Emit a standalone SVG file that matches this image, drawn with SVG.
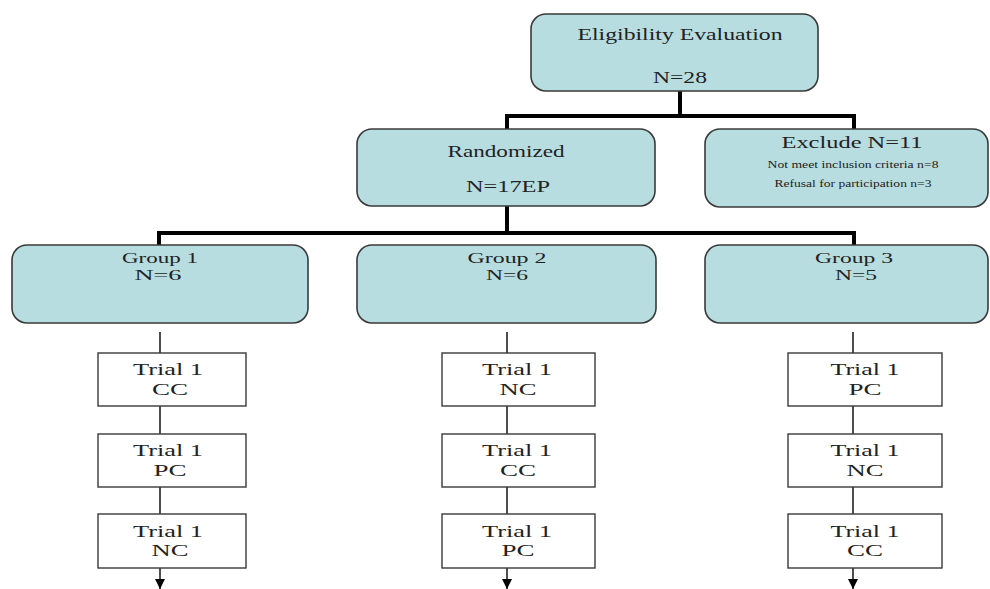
<svg xmlns="http://www.w3.org/2000/svg" width="990" height="589" viewBox="0 0 990 589">
<style>
.rb{fill:#b8dde0;stroke:#3a3a3a;stroke-width:1.6}
.tb{fill:#ffffff;stroke:#3a3a3a;stroke-width:1.4}
text{font-family:"Liberation Serif","Times New Roman",serif;fill:#222;text-anchor:middle}
.t17{font-size:17px}
.t15{font-size:15px}
.t16{font-size:16px}
.t9{font-size:9.5px}
.thick{stroke:#000;stroke-width:4;fill:none}
.thin{stroke:#222;stroke-width:1.6;fill:none}
</style>
<defs>
<marker id="arr" viewBox="0 0 10 10" refX="10" refY="5" markerWidth="10" markerHeight="10" markerUnits="userSpaceOnUse" orient="auto">
<path d="M0,0 L10,5 L0,10 z" fill="#000"/>
</marker>
</defs>
<rect width="990" height="589" fill="#fff"/>
<g id="connectors">
<path class="thick" d="M680,91 V116 M507,116 H854 M507,114 V129 M854,114 V129"/>
<path class="thick" d="M507,206 V233 M159,233 H854 M159,231 V245 M854,231 V245"/>
<path class="thin" d="M160,332 V353 M160,406 V434 M160,487 V514"/>
<path class="thin" d="M507,332 V353 M507,406 V434 M507,487 V514"/>
<path class="thin" d="M853,332 V353 M853,406 V434 M853,487 V514"/>
<path class="thin" d="M160,568 V589" marker-end="url(#arr)"/>
<path class="thin" d="M507,568 V589" marker-end="url(#arr)"/>
<path class="thin" d="M853,568 V589" marker-end="url(#arr)"/>
</g>
<g id="eligibility">
<rect class="rb" x="531" y="14" width="287" height="77" rx="15"/>
<text class="t17" x="680" y="40" textLength="205" lengthAdjust="spacingAndGlyphs">Eligibility Evaluation</text>
<text class="t17" x="680" y="83" textLength="54" lengthAdjust="spacingAndGlyphs">N=28</text>
</g>
<g id="randomized">
<rect class="rb" x="357" y="129" width="298" height="77" rx="15"/>
<text class="t17" x="506" y="157" textLength="117" lengthAdjust="spacingAndGlyphs">Randomized</text>
<text class="t17" x="508" y="192" textLength="84" lengthAdjust="spacingAndGlyphs">N=17EP</text>
</g>
<g id="exclude">
<rect class="rb" x="705" y="129" width="283" height="78" rx="15"/>
<text class="t16" x="852" y="148" textLength="141" lengthAdjust="spacingAndGlyphs">Exclude  N=11</text>
<text class="t9" x="853" y="168" textLength="171" lengthAdjust="spacingAndGlyphs">Not meet inclusion criteria n=8</text>
<text class="t9" x="853" y="187" textLength="157" lengthAdjust="spacingAndGlyphs">Refusal for participation n=3</text>
</g>
<g id="group1">
<rect class="rb" x="12" y="245" width="296" height="78" rx="15"/>
<text class="t15" x="160" y="263" textLength="76" lengthAdjust="spacingAndGlyphs">Group 1</text>
<text class="t15" x="158" y="280" textLength="47" lengthAdjust="spacingAndGlyphs">N=6</text>
</g>
<g id="group2">
<rect class="rb" x="357" y="245" width="299" height="78" rx="15"/>
<text class="t15" x="507" y="263" textLength="79" lengthAdjust="spacingAndGlyphs">Group 2</text>
<text class="t15" x="507" y="280" textLength="42" lengthAdjust="spacingAndGlyphs">N=6</text>
</g>
<g id="group3">
<rect class="rb" x="705" y="245" width="283" height="78" rx="15"/>
<text class="t15" x="854" y="263" textLength="78" lengthAdjust="spacingAndGlyphs">Group 3</text>
<text class="t15" x="856" y="280" textLength="42" lengthAdjust="spacingAndGlyphs">N=5</text>
</g>
<g id="g1t1">
<rect class="tb" x="98" y="353" width="148" height="53"/>
<text class="t17" x="168" y="375" textLength="70" lengthAdjust="spacingAndGlyphs">Trial 1</text>
<text class="t17" x="170" y="395" textLength="36" lengthAdjust="spacingAndGlyphs">CC</text>
</g>
<g id="g1t2">
<rect class="tb" x="98" y="434" width="148" height="53"/>
<text class="t17" x="168" y="456" textLength="70" lengthAdjust="spacingAndGlyphs">Trial 1</text>
<text class="t17" x="170" y="476" textLength="33" lengthAdjust="spacingAndGlyphs">PC</text>
</g>
<g id="g1t3">
<rect class="tb" x="98" y="514" width="148" height="54"/>
<text class="t17" x="168" y="537" textLength="70" lengthAdjust="spacingAndGlyphs">Trial 1</text>
<text class="t17" x="170" y="556" textLength="37" lengthAdjust="spacingAndGlyphs">NC</text>
</g>
<g id="g2t1">
<rect class="tb" x="442" y="353" width="153" height="53"/>
<text class="t17" x="517" y="375" textLength="70" lengthAdjust="spacingAndGlyphs">Trial 1</text>
<text class="t17" x="518" y="395" textLength="37" lengthAdjust="spacingAndGlyphs">NC</text>
</g>
<g id="g2t2">
<rect class="tb" x="442" y="434" width="153" height="53"/>
<text class="t17" x="517" y="456" textLength="70" lengthAdjust="spacingAndGlyphs">Trial 1</text>
<text class="t17" x="518" y="476" textLength="36" lengthAdjust="spacingAndGlyphs">CC</text>
</g>
<g id="g2t3">
<rect class="tb" x="442" y="514" width="153" height="54"/>
<text class="t17" x="517" y="537" textLength="70" lengthAdjust="spacingAndGlyphs">Trial 1</text>
<text class="t17" x="518" y="556" textLength="33" lengthAdjust="spacingAndGlyphs">PC</text>
</g>
<g id="g3t1">
<rect class="tb" x="788" y="353" width="154" height="53"/>
<text class="t17" x="865" y="375" textLength="69" lengthAdjust="spacingAndGlyphs">Trial 1</text>
<text class="t17" x="865" y="395" textLength="33" lengthAdjust="spacingAndGlyphs">PC</text>
</g>
<g id="g3t2">
<rect class="tb" x="788" y="434" width="154" height="53"/>
<text class="t17" x="865" y="456" textLength="69" lengthAdjust="spacingAndGlyphs">Trial 1</text>
<text class="t17" x="865" y="476" textLength="37" lengthAdjust="spacingAndGlyphs">NC</text>
</g>
<g id="g3t3">
<rect class="tb" x="788" y="514" width="154" height="54"/>
<text class="t17" x="865" y="537" textLength="69" lengthAdjust="spacingAndGlyphs">Trial 1</text>
<text class="t17" x="865" y="556" textLength="36" lengthAdjust="spacingAndGlyphs">CC</text>
</g>
</svg>
